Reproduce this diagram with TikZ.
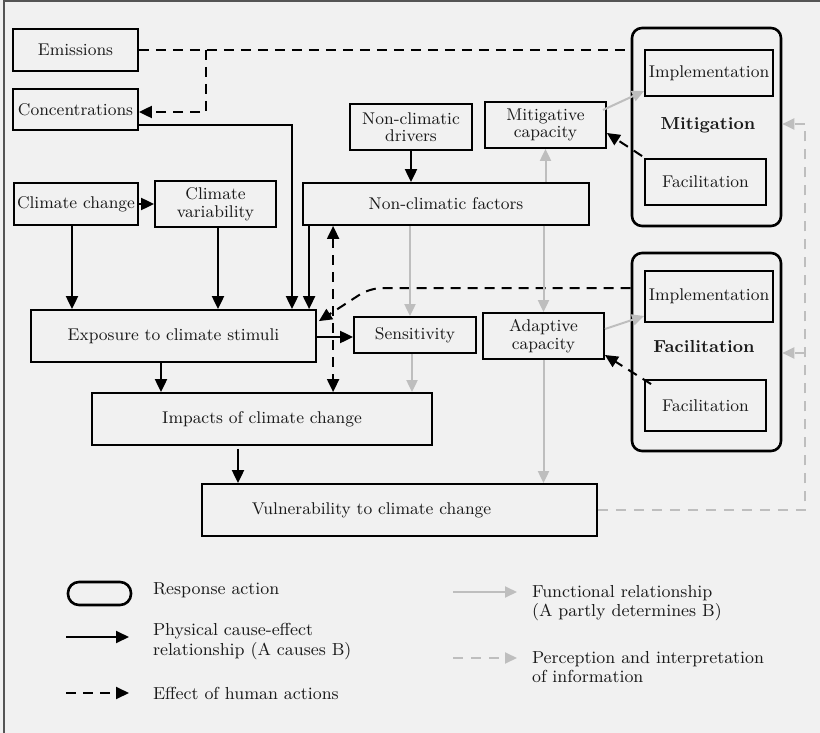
\documentclass[tikz,border=0pt]{standalone}
\usetikzlibrary{arrows.meta}
\definecolor{bg}{HTML}{F1F1F1}
\definecolor{gr}{HTML}{BEBEBE}
\definecolor{txt}{HTML}{1A1A1A}
\definecolor{fr}{HTML}{555555}
\begin{document}
\begin{tikzpicture}[x=0.5pt,y=-0.5pt,
  every node/.style={font=\fontsize{8.5}{8.8}\selectfont, text=txt},
  box/.style={draw=black, line width=0.9pt, fill=bg, inner sep=0pt, align=center},
  resp/.style={draw=black, line width=1.3pt, rounded corners=5pt, inner sep=0pt},
  phys/.style={line width=1pt, -{Triangle[length=6.5pt,width=6pt]}},
  human/.style={phys, dash pattern=on 5pt off 3.5pt},
  humanboth/.style={line width=1pt, dash pattern=on 5pt off 3.5pt, {Triangle[length=6.5pt,width=6pt]}-{Triangle[length=6.5pt,width=6pt]}},
  func/.style={draw=gr, line width=1pt, -{Triangle[length=6pt,width=5.5pt]}},
  percep/.style={func, dash pattern=on 5pt off 4pt},
  legtext/.style={anchor=west, align=left, font=\fontsize{8.7}{9.6}\selectfont},
]
\useasboundingbox (0,0) rectangle (820,733);
\fill[bg] (0,0) rectangle (820,733);
\draw[fr, line width=1pt] (4,733) -- (4,1) -- (820,1);

% response action boxes
\node[resp, minimum width=74.5pt, minimum height=99pt] (mit) at (706.5,127) {};
\node[resp, minimum width=74.5pt, minimum height=99pt] (ad) at (706.5,352) {};
\node[font=\fontsize{8.7}{9}\selectfont\bfseries] (mitl) at (708,125) {Mitigation};
\node[font=\fontsize{8.7}{9}\selectfont\bfseries] (adl) at (704,347) {Facilitation};

% boxes
\node[box, minimum width=62.5pt, minimum height=21pt] (em) at (75.5,50) {Emissions};
\node[box, minimum width=62.5pt, minimum height=20.5pt] (conc) at (75.5,109.5) {Concentrations};
\node[box, minimum width=61pt, minimum height=23pt] (ndr) at (411,127) {Non-climatic\\drivers};
\node[box, minimum width=60.5pt, minimum height=23pt] (mcap) at (545.5,125) {Mitigative\\capacity};
\node[box, minimum width=62pt, minimum height=21pt] (cc) at (76,204) {Climate change};
\node[box, minimum width=60.5pt, minimum height=23pt] (cv) at (215.5,204) {Climate\\variability};
\node[box, minimum width=143pt, minimum height=21pt] (ncf) at (446,204) {Non-climatic factors};
\node[box, minimum width=64pt, minimum height=23pt] (mimp) at (709,73) {Implementation};
\node[box, minimum width=60.5pt, minimum height=23pt] (mfac) at (705.5,182) {Facilitation};
\node[box, minimum width=142.5pt, minimum height=26pt] (exp) at (173.5,336) {Exposure to climate stimuli};
\node[box, minimum width=61pt, minimum height=18pt] (sens) at (415,335) {Sensitivity};
\node[box, minimum width=60.5pt, minimum height=23pt] (acap) at (543.5,336) {Adaptive\\capacity};
\node[box, minimum width=170pt, minimum height=26pt] (imp) at (262,419) {Impacts of climate change};
\node[box, minimum width=197.5pt, minimum height=26pt, label={[xshift=-14pt]center:Vulnerability to climate change}] (vul) at (399.5,510) {};
\node[box, minimum width=64pt, minimum height=25.5pt] (aimp) at (709,296.5) {Implementation};
\node[box, minimum width=60.5pt, minimum height=25.5pt] (afac) at (705.5,405.5) {Facilitation};

% human actions
\coordinate (split) at (206,50);
\draw[line width=1pt, dash pattern=on 5pt off 3.5pt] (em.east) -- (em.east -| mit.west);
\draw[human] (split) |- ([yshift=-1.25pt]conc.east);
\draw[humanboth] ([xshift=15.5pt]ncf.south west) -- ([xshift=15.5pt]ncf.south west |- imp.north);
\coordinate (bend) at (370,288);
\draw[human, rounded corners=6pt] ([yshift=32pt]ad.west) -- (bend) -- ([xshift=1pt,yshift=-6pt]exp.north east);
\draw[human] ([xshift=-1pt,yshift=1pt]mfac.north west) -- ([yshift=-4pt]mcap.east);
\draw[human] ([xshift=3.5pt,yshift=-2.5pt]afac.north west) -- ([yshift=-9.5pt]acap.east);

% physical
\draw[phys] ([yshift=-7.75pt]conc.east) -| ([xshift=59.25pt]exp.north);
\draw[phys] (cc.east) -- (cc.east -| cv.west);
\draw[phys] ([xshift=-2pt]cc.south) -- ([xshift=-2pt]cc.south |- exp.north);
\draw[phys] ([xshift=1.25pt]cv.south) -- ([xshift=1.25pt]cv.south |- exp.north);
\draw[phys] ([xshift=3.5pt]ncf.south west) -- ([xshift=3.5pt]ncf.south west |- exp.north);
\draw[phys] (ndr.south) -- (ndr.south |- ncf.north);
\draw[phys] ([yshift=-0.5pt]exp.east) -- ([yshift=-0.5pt]exp.east -| sens.west);
\draw[phys] ([xshift=-6.25pt]exp.south) -- ([xshift=-6.25pt]exp.south |- imp.north);
\draw[phys] ([xshift=-12pt,yshift=-1.5pt]imp.south) -- ([xshift=-12pt]imp.south |- vul.north);

% functional
\draw[func] ([xshift=-18pt]ncf.south) -- ([xshift=-18pt]ncf.south |- sens.north);
\draw[func] ([xshift=-1.5pt]sens.south) -- ([xshift=-1.5pt]sens.south |- imp.north);
\draw[func] (ncf.north -| mcap.south) -- (mcap.south);
\draw[func] (ncf.south -| acap.north) -- (acap.north);
\draw[func] (acap.south) -- (acap.south |- vul.north);
\draw[func] ([xshift=-2pt,yshift=7.5pt]mcap.east) -- ([yshift=-9pt]mimp.west);
\draw[func] ([yshift=3.5pt]acap.east) -- ([yshift=-9.75pt]aimp.west);

% perception
\draw[percep] (vul.east) -| ([xshift=11.5pt,yshift=1.5pt]mit.east) -- ([yshift=1.5pt]mit.east);
\draw[percep] ([xshift=11.5pt,yshift=-0.5pt]ad.east) -- ([yshift=-0.5pt]ad.east);

% legend
\node[resp, rounded corners=5.5pt, minimum width=31.5pt, minimum height=11.5pt] (lresp) at (99.5,593.5) {};
\node[legtext] (t1) at (146,590) {Response action};
\coordinate (l1a) at (66,637); \coordinate (l1b) at (129,637);
\draw[phys] (l1a) -- (l1b);
\node[legtext] (t2) at (146,641.5) {Physical cause-effect\\relationship (A causes B)};
\coordinate (l2a) at (66,693); \coordinate (l2b) at (129,693);
\draw[human] (l2a) -- (l2b);
\node[legtext] (t3) at (146,693) {Effect of human actions};
\coordinate (l3a) at (453,592); \coordinate (l3b) at (517,592);
\draw[func] (l3a) -- (l3b);
\node[legtext] (t4) at (525,603) {Functional relationship\\(A partly determines B)};
\coordinate (l4a) at (453,658); \coordinate (l4b) at (517,658);
\draw[percep] (l4a) -- (l4b);
\node[legtext] (t5) at (525,667) {Perception and interpretation\\of information};
\end{tikzpicture}
\end{document}
